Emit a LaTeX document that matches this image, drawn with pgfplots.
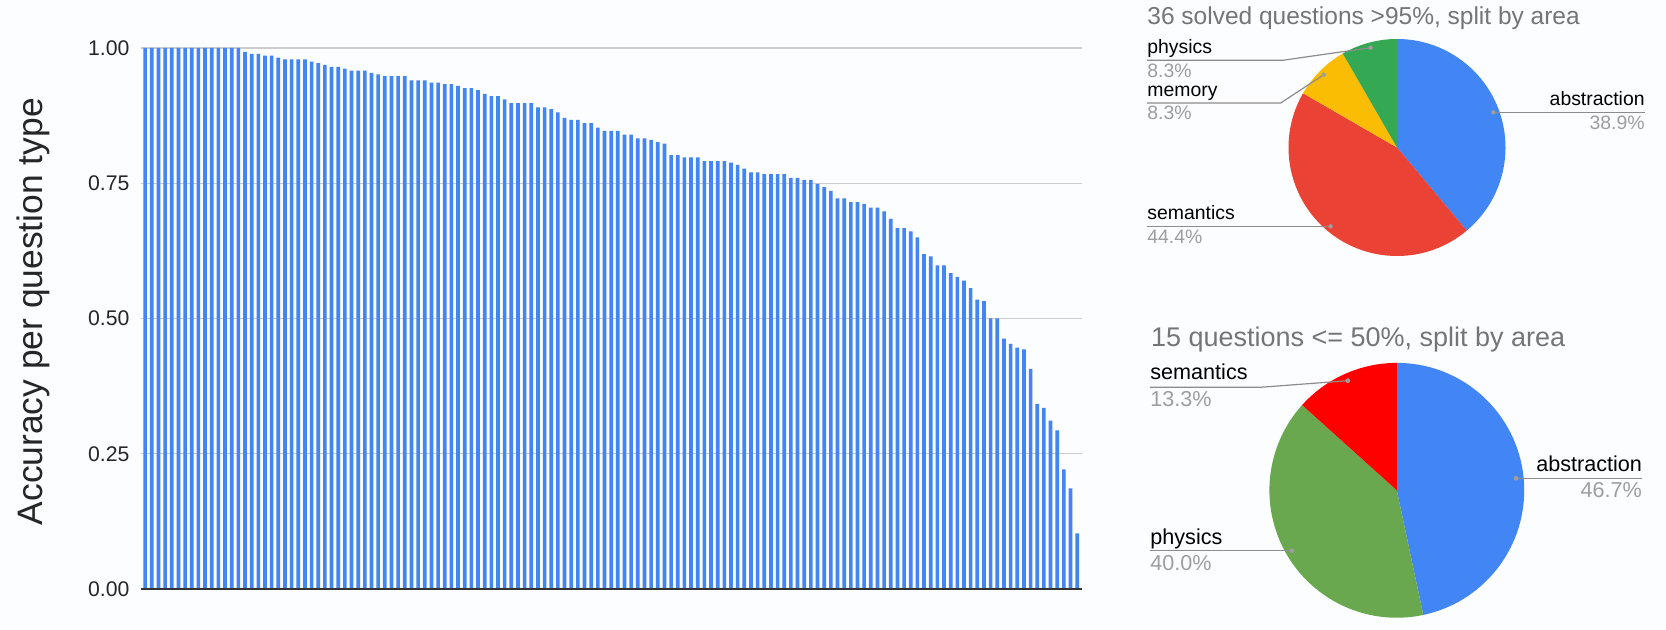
\documentclass[border=0pt]{standalone}
\usepackage{fontspec}
\setmainfont{Liberation Sans}
\usepackage{pgfplots}
\pgfplotsset{compat=1.18}

\definecolor{gblue}{HTML}{4285F4}
\definecolor{gred}{HTML}{EA4335}
\definecolor{gyellow}{HTML}{FBBC04}
\definecolor{ggreen}{HTML}{34A853}
\definecolor{pgreen}{HTML}{6AA84F}
\definecolor{pred}{HTML}{FF0000}
\definecolor{titlegray}{HTML}{757575}
\definecolor{pctgray}{HTML}{9E9E9E}
\definecolor{leadgray}{HTML}{8C8C8C}
\definecolor{gridgray}{HTML}{CCCCCC}
\definecolor{bg}{HTML}{FCFDFF}

% 1 px of the reference = 0.5pt
\newcommand{\lbl}{\fontsize{9.7}{11}\selectfont}
\newcommand{\lblb}{\fontsize{10.8}{12}\selectfont}
% pie slice: center x, center y (px, from top), radius, start angle, end angle, colour
\newcommand{\slice}[6]{\fill[#6] (axis cs:#1,#2) -- ++(#4:#3) arc[start angle=#4, end angle=#5, radius=#3] -- cycle;}

\begin{document}
\begin{tikzpicture}
% pixel canvas for the two pies and their labels
\begin{axis}[
    at={(0,0)}, anchor=south west,
    x=0.5pt, y=0.5pt, xmin=0, xmax=1666, ymin=0, ymax=630, y dir=reverse,
    hide axis, clip=false]
  \fill[bg] (axis cs:0,0) rectangle (axis cs:1666,630);
  % --- pie 1: 36 questions > 95%: abstraction 14, semantics 16, memory 3, physics 3
  \slice{1397}{147.5}{54.25pt}{90}{-50}{gblue}
  \slice{1397}{147.5}{54.25pt}{-50}{-210}{gred}
  \slice{1397}{147.5}{54.25pt}{-210}{-240}{gyellow}
  \slice{1397}{147.5}{54.25pt}{-240}{-270}{ggreen}
  \node[anchor=base west, text=titlegray, font=\fontsize{12.25}{14}\selectfont, inner sep=0pt] at (axis cs:1147,25) {36 solved questions >95\%, split by area};
  \draw[leadgray, line width=0.6pt] (axis cs:1147,60.3) -- (axis cs:1282.7,60.3) -- (axis cs:1370.7,47.7);
  \fill[pctgray] (axis cs:1370.7,47.7) circle[radius=1.1pt];
  \node[anchor=base west, font=\lbl, inner sep=0pt] at (axis cs:1147,54) {physics};
  \node[anchor=base west, font=\lbl, text=pctgray, inner sep=0pt] at (axis cs:1147,77.5) {8.3\%};
  \draw[leadgray, line width=0.6pt] (axis cs:1147,103) -- (axis cs:1280.7,103) -- (axis cs:1323.7,74.7);
  \fill[pctgray] (axis cs:1323.7,74.7) circle[radius=1.1pt];
  \node[anchor=base west, font=\lbl, inner sep=0pt] at (axis cs:1147,96.7) {memory};
  \node[anchor=base west, font=\lbl, text=pctgray, inner sep=0pt] at (axis cs:1147,120) {8.3\%};
  \draw[leadgray, line width=0.6pt] (axis cs:1493.3,112.3) -- (axis cs:1645,112.3);
  \fill[pctgray] (axis cs:1493.3,112.3) circle[radius=1.1pt];
  \node[anchor=base east, font=\lbl, inner sep=0pt] at (axis cs:1645,106) {abstraction};
  \node[anchor=base east, font=\lbl, text=pctgray, inner sep=0pt] at (axis cs:1645,129.3) {38.9\%};
  \draw[leadgray, line width=0.6pt] (axis cs:1147,226.3) -- (axis cs:1330.6,226.3);
  \fill[pctgray] (axis cs:1330.6,226.3) circle[radius=1.1pt];
  \node[anchor=base west, font=\lbl, inner sep=0pt] at (axis cs:1147,220) {semantics};
  \node[anchor=base west, font=\lbl, text=pctgray, inner sep=0pt] at (axis cs:1147,243.3) {44.4\%};
  % --- pie 2: 15 questions <= 50%: abstraction 7, physics 6, semantics 2
  \slice{1396.8}{490.3}{63.7pt}{90}{-78}{gblue}
  \slice{1396.8}{490.3}{63.7pt}{-78}{-222}{pgreen}
  \slice{1396.8}{490.3}{63.7pt}{-222}{-270}{pred}
  \node[anchor=base west, text=titlegray, font=\fontsize{13.5}{15}\selectfont, inner sep=0pt] at (axis cs:1150.6,346.7) {15 questions <= 50\%, split by area};
  \draw[leadgray, line width=0.6pt] (axis cs:1150,387.3) -- (axis cs:1260.3,387.3) -- (axis cs:1347.8,380.7);
  \fill[pctgray] (axis cs:1347.8,380.7) circle[radius=1.2pt];
  \node[anchor=base west, font=\lblb, inner sep=0pt] at (axis cs:1150,380) {semantics};
  \node[anchor=base west, font=\lblb, text=pctgray, inner sep=0pt] at (axis cs:1150,406.7) {13.3\%};
  \draw[leadgray, line width=0.6pt] (axis cs:1516,478.3) -- (axis cs:1642.3,478.3);
  \fill[pctgray] (axis cs:1516,478.3) circle[radius=1.2pt];
  \node[anchor=base east, font=\lblb, inner sep=0pt] at (axis cs:1642.3,471.7) {abstraction};
  \node[anchor=base east, font=\lblb, text=pctgray, inner sep=0pt] at (axis cs:1642.3,497.3) {46.7\%};
  \draw[leadgray, line width=0.6pt] (axis cs:1150,550.7) -- (axis cs:1291.9,550.7);
  \fill[pctgray] (axis cs:1291.9,550.7) circle[radius=1.2pt];
  \node[anchor=base west, font=\lblb, inner sep=0pt] at (axis cs:1150,544.3) {physics};
  \node[anchor=base west, font=\lblb, text=pctgray, inner sep=0pt] at (axis cs:1150,570) {40.0\%};
\end{axis}

% bar chart: accuracy of each question type, sorted
\begin{axis}[
    at={(70.25pt,20.5pt)}, anchor=south west,
    width=470.5pt, height=270.5pt, scale only axis,
    xmin=0.3, xmax=141.65, ymin=0, ymax=1,
    xtick=\empty, ytick={0,0.25,0.5,0.75,1},
    /pgf/number format/fixed, /pgf/number format/fixed zerofill,
    /pgf/number format/precision=2, /pgf/number format/assume math mode=true,
    yticklabel style={font=\fontsize{10.6}{12}\selectfont, text=black!85, xshift=-2pt},
    ymajorgrids, grid style={gridgray, line width=0.6pt},
    axis line style={draw=none}, tick style={draw=none},
    ylabel={Accuracy per question type},
    ylabel style={font=\fontsize{17.7}{19}\selectfont, text=black!85, at={(axis description cs:-0.1142,0.5126)}, anchor=center},
    clip=false]
  \addplot[ybar, bar width=0.55, bar shift=0pt, fill=gblue, draw=none] coordinates {
    (1,1.000) (2,1.000) (3,1.000) (4,1.000) (5,1.000) (6,1.000) (7,1.000) (8,1.000) (9,1.000) (10,1.000)
    (11,1.000) (12,1.000) (13,1.000) (14,1.000) (15,1.000) (16,0.993) (17,0.989) (18,0.989) (19,0.986) (20,0.986)
    (21,0.982) (22,0.979) (23,0.979) (24,0.979) (25,0.979) (26,0.975) (27,0.972) (28,0.969) (29,0.965) (30,0.965)
    (31,0.962) (32,0.958) (33,0.958) (34,0.958) (35,0.954) (36,0.951) (37,0.948) (38,0.948) (39,0.948) (40,0.948)
    (41,0.940) (42,0.940) (43,0.940) (44,0.936) (45,0.936) (46,0.933) (47,0.933) (48,0.930) (49,0.926) (50,0.926)
    (51,0.922) (52,0.915) (53,0.911) (54,0.911) (55,0.905) (56,0.898) (57,0.898) (58,0.898) (59,0.898) (60,0.890)
    (61,0.890) (62,0.887) (63,0.881) (64,0.871) (65,0.867) (66,0.867) (67,0.861) (68,0.861) (69,0.853) (70,0.847)
    (71,0.847) (72,0.847) (73,0.840) (74,0.840) (75,0.833) (76,0.833) (77,0.830) (78,0.826) (79,0.823) (80,0.802)
    (81,0.802) (82,0.798) (83,0.798) (84,0.798) (85,0.791) (86,0.791) (87,0.791) (88,0.791) (89,0.788) (90,0.784)
    (91,0.777) (92,0.770) (93,0.770) (94,0.767) (95,0.767) (96,0.767) (97,0.767) (98,0.760) (99,0.760) (100,0.756)
    (101,0.756) (102,0.749) (103,0.743) (104,0.736) (105,0.722) (106,0.722) (107,0.715) (108,0.715) (109,0.712) (110,0.705)
    (111,0.705) (112,0.698) (113,0.684) (114,0.667) (115,0.667) (116,0.661) (117,0.650) (118,0.619) (119,0.615) (120,0.598)
    (121,0.598) (122,0.584) (123,0.577) (124,0.570) (125,0.556) (126,0.535) (127,0.532) (128,0.500) (129,0.500) (130,0.463)
    (131,0.453) (132,0.446) (133,0.443) (134,0.407) (135,0.342) (136,0.335) (137,0.311) (138,0.293) (139,0.221) (140,0.186)
    (141,0.103)
  };
  \draw[black!80, line width=0.9pt] (axis cs:0.3,0) -- (axis cs:141.65,0);
\end{axis}
\end{tikzpicture}
\end{document}
